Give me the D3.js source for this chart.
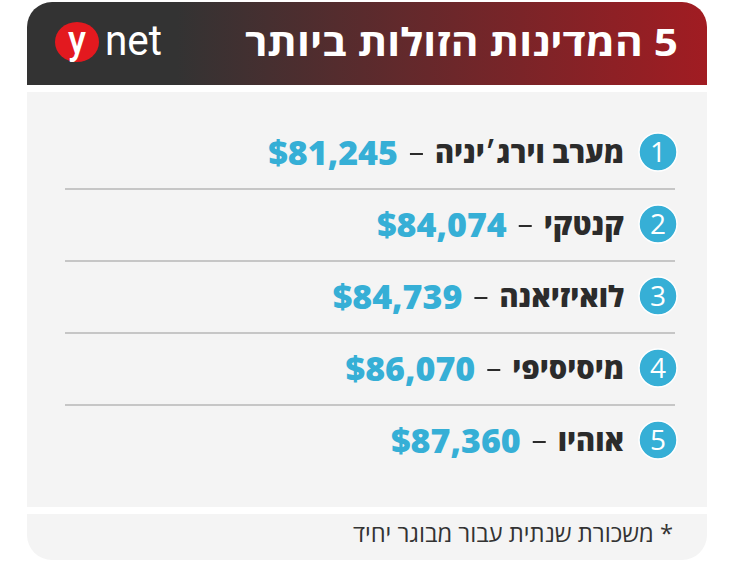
<!DOCTYPE html>
<html>
<head>
<meta charset="utf-8">
<script src="https://cdn.jsdelivr.net/npm/d3@7"></script>
<style>
  html, body { margin: 0; padding: 0; background: #fff; }
  svg { display: block; }
</style>
</head>
<body>
<svg id="chart"></svg>
<script>
// data
const title = "5 המדינות הזולות ביותר";
const ranks = [1, 2, 3, 4, 5];
const states = ["מערב וירג׳יניה", "קנטקי", "לואיזיאנה", "מיסיסיפי", "אוהיו"];
const salaries = [81245, 84074, 84739, 86070, 87360];
const footnote = "* משכורת שנתית עבור מבוגר יחיד";

const W = 740, H = 577;
const card = { left: 27, right: 707, top: 2, headBottom: 85, bodyTop: 92, bodyBottom: 507, footTop: 514, footBottom: 560, r: 25 };
const blue = "#36afd6";
const font = "'Open Sans', 'Liberation Sans', 'DejaVu Sans', sans-serif";

const svg = d3.select("#chart").attr("width", W).attr("height", H);

// header gradient
const defs = svg.append("defs");
const grad = defs.append("linearGradient").attr("id", "head").attr("x1", "0").attr("x2", "1");
grad.append("stop").attr("offset", "0.22").attr("stop-color", "#333333");
grad.append("stop").attr("offset", "1").attr("stop-color", "#a11c22");

const r = card.r;
const headPath = d3.path();
headPath.moveTo(card.left, card.headBottom);
headPath.lineTo(card.left, card.top + r);
headPath.arcTo(card.left, card.top, card.left + r, card.top, r);
headPath.lineTo(card.right - r, card.top);
headPath.arcTo(card.right, card.top, card.right, card.top + r, r);
headPath.lineTo(card.right, card.headBottom);
headPath.closePath();
svg.append("path").attr("d", headPath.toString()).attr("fill", "url(#head)");

// body panel
svg.append("rect")
  .attr("x", card.left).attr("y", card.bodyTop)
  .attr("width", card.right - card.left).attr("height", card.bodyBottom - card.bodyTop)
  .attr("fill", "#f4f4f4");

// footer panel
const footPath = d3.path();
footPath.moveTo(card.left, card.footTop);
footPath.lineTo(card.right, card.footTop);
footPath.lineTo(card.right, card.footBottom - r);
footPath.arcTo(card.right, card.footBottom, card.right - r, card.footBottom, r);
footPath.lineTo(card.left + r, card.footBottom);
footPath.arcTo(card.left, card.footBottom, card.left, card.footBottom - r, r);
footPath.closePath();
svg.append("path").attr("d", footPath.toString()).attr("fill", "#f4f4f4");

// title
svg.append("text")
  .attr("x", 678).attr("y", 56)
  .attr("direction", "rtl").attr("text-anchor", "start")
  .attr("font-family", font).attr("font-weight", 700).attr("font-size", 38)
  .attr("fill", "#fff")
  .attr("textLength", 433).attr("lengthAdjust", "spacingAndGlyphs")
  .text(title);

// ynet logo
const logo = svg.append("g");
logo.append("ellipse").attr("cx", 77).attr("cy", 42).attr("rx", 22).attr("ry", 20).attr("fill", "#e3191f");
logo.append("text")
  .attr("x", 77).attr("y", 54).attr("text-anchor", "middle")
  .attr("font-family", "Roboto, sans-serif").attr("font-weight", 500).attr("font-size", 40)
  .attr("fill", "#fff")
  .attr("textLength", 18).attr("lengthAdjust", "spacingAndGlyphs")
  .text("y");
logo.append("text")
  .attr("x", 105).attr("y", 55)
  .attr("font-family", "Roboto, sans-serif").attr("font-weight", 400).attr("font-size", 42)
  .attr("fill", "#fff")
  .attr("textLength", 57).attr("lengthAdjust", "spacingAndGlyphs")
  .text("net");

// rows
const y = d3.scaleBand().domain(ranks).range([116, 476]);
const fmt = d3.format("$,");
const rows = ranks.map((k, i) => ({ rank: k, state: states[i], salary: salaries[i] }));

const row = svg.selectAll("g.row").data(rows).join("g")
  .attr("class", "row")
  .attr("transform", d => `translate(0,${y(d.rank) + y.bandwidth() / 2})`);

// separators (below all but last)
row.filter((d, i) => i < rows.length - 1).append("line")
  .attr("x1", 65).attr("x2", 675)
  .attr("y1", y.bandwidth() / 2 + 1).attr("y2", y.bandwidth() / 2 + 1)
  .attr("stroke", "#c6c6c6").attr("stroke-width", 2);

row.append("circle")
  .attr("cx", 658).attr("cy", 0).attr("r", 19)
  .attr("fill", blue).attr("stroke", "#fff").attr("stroke-width", 1.5);

row.append("text")
  .attr("x", 658).attr("y", 10).attr("text-anchor", "middle")
  .attr("font-family", font).attr("font-size", 28).attr("fill", "#fff")
  .text(d => d.rank);

row.each(function(d) {
  const g = d3.select(this);
  const name = g.append("text")
    .attr("x", 624).attr("y", 11)
    .attr("direction", "rtl").attr("text-anchor", "start")
    .attr("font-family", font).attr("font-weight", 800).attr("font-size", 29)
    .attr("fill", "#2b2b2b")
    .text(d.state);
  const nameLeft = 624 - name.node().getComputedTextLength();
  g.append("line")
    .attr("x1", nameLeft - 25).attr("x2", nameLeft - 12)
    .attr("y1", 2).attr("y2", 2)
    .attr("stroke", "#2b2b2b").attr("stroke-width", 2);
  g.append("text")
    .attr("x", nameLeft - 37).attr("y", 13)
    .attr("text-anchor", "end")
    .attr("font-family", font).attr("font-weight", 800).attr("font-size", 34)
    .attr("fill", blue)
    .text(fmt(d.salary));
});

// footnote
svg.append("text")
  .attr("x", 673).attr("y", 542)
  .attr("direction", "rtl").attr("text-anchor", "start")
  .attr("font-family", font).attr("font-size", 23).attr("fill", "#333")
  .attr("textLength", 320).attr("lengthAdjust", "spacingAndGlyphs")
  .text(footnote);
</script>
</body>
</html>
